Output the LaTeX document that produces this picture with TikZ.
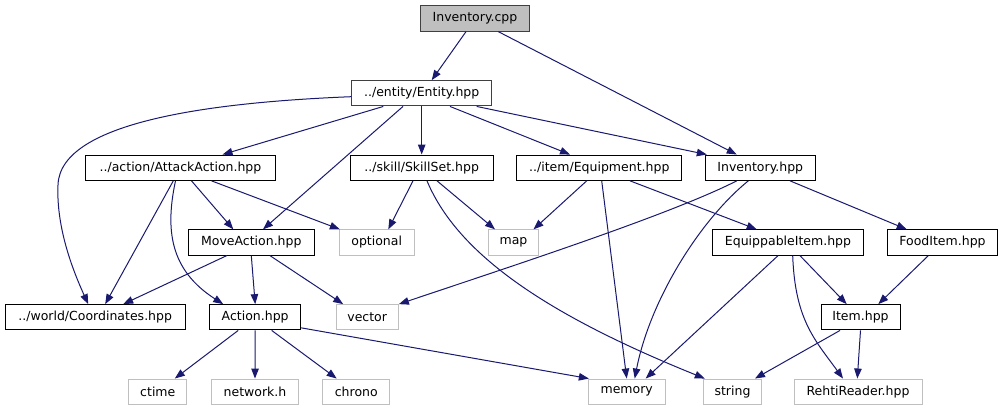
\documentclass[tikz,border=0pt]{standalone}
\usepackage{fontspec}
\setmainfont{DejaVu Sans}
\usetikzlibrary{arrows.meta}
\definecolor{edgeblue}{HTML}{191970}
\definecolor{rootfill}{HTML}{BFBFBF}
\definecolor{sysline}{HTML}{BFBFBF}
\begin{document}
\begin{tikzpicture}[x=1pt, y=-1pt]
    \tikzset{
      box/.style={draw, line width=1pt, minimum height=25.3pt, inner sep=0pt,
                  font=\fontsize{12.5}{14}\selectfont},
      hdr/.style={box, draw=black},
      root/.style={box, draw=black!75, fill=rootfill},
      sys/.style={box, draw=sysline},
      dep/.style={draw=edgeblue, line width=1pt, -{Triangle[length=10pt,width=7.5pt]}},
    }
    \useasboundingbox (0,0) rectangle (1008,411);
    % ===== rows 1-2 =====
    \node[root, minimum width=108.6pt] (invcpp) at (475,18.5) {Inventory.cpp};
    \node[hdr, draw=black!75, minimum width=140pt] (entity) at (421.7,93.3) {../entity/Entity.hpp};
    % ===== row 3 =====
    \node[hdr, minimum width=189.6pt] (attack) at (180.5,167.7) {../action/AttackAction.hpp};
    \node[hdr, minimum width=142.7pt] (skill) at (421.7,167.7) {../skill/SkillSet.hpp};
    \node[hdr, minimum width=165.3pt] (equip) at (599.3,167.7) {../item/Equipment.hpp};
    \node[hdr, minimum width=110pt] (invhpp) at (760.3,167.7) {Inventory.hpp};
    % ===== row 4 =====
    \node[hdr, minimum width=126pt] (move) at (251.3,242.5) {MoveAction.hpp};
    \node[sys, minimum width=74.7pt] (optional) at (376.7,242.5) {optional};
    \node[sys, minimum width=50.4pt] (map) at (513.5,242.5) {map};
    \node[hdr, minimum width=150.6pt] (equippable) at (788,242.5) {EquippableItem.hpp};
    \node[hdr, minimum width=110.4pt] (food) at (942.5,242.5) {FoodItem.hpp};
    % ===== row 5 =====
    \node[hdr, minimum width=180.3pt] (coord) at (95.2,317.3) {../world/Coordinates.hpp};
    \node[hdr, minimum width=91pt] (action) at (255.2,317.3) {Action.hpp};
    \node[sys, minimum width=62.3pt] (vector) at (367.2,317.3) {vector};
    \node[hdr, minimum width=79pt] (item) at (860.5,317.3) {Item.hpp};
    % ===== row 6 =====
    \node[sys, minimum width=58.3pt] (ctime) at (157.8,391.7) {ctime};
    \node[sys, minimum width=86.6pt] (network) at (255,391.7) {network.h};
    \node[sys, minimum width=66.7pt] (chrono) at (356.3,391.7) {chrono};
    \node[sys, minimum width=76.7pt] (memory) at (626.7,391.7) {memory};
    \node[sys, minimum width=58.4pt] (string) at (732.5,391.7) {string};
    \node[sys, minimum width=128pt] (rehti) at (858,391.7) {RehtiReader.hpp};
    % ===== edges =====
    \draw[dep] ([xshift=-9pt]invcpp.south) -- ([xshift=10pt]entity.north);
    \draw[dep] ([xshift=23.3pt]invcpp.south) -- ([xshift=-23.6pt]invhpp.north);
    \draw[dep] ([yshift=-3.4pt]entity.west) .. controls (220,102) and (60,120) .. (58,185)
               .. controls (56,230) and (75,275) .. ([xshift=-7pt]coord.north);
    \draw[dep] ([xshift=-38.4pt]entity.south) -- ([xshift=42pt]attack.north);
    \draw[dep] ([xshift=-18.7pt]entity.south) -- ([xshift=11.7pt]move.north);
    \draw[dep] (entity.south) -- (skill.north);
    \draw[dep] ([xshift=28.3pt]entity.south) -- ([xshift=-29.3pt]equip.north);
    \draw[dep] ([xshift=55pt]entity.south) -- ([xshift=2pt]invhpp.north west);
    \draw[dep] ([xshift=-7.2pt]attack.south) -- ([xshift=10pt]coord.north);
    \draw[dep] ([xshift=-5pt]attack.south) .. controls (165,230) and (170,270) .. ([xshift=-32pt]action.north);
    \draw[dep] ([xshift=11pt]attack.south) -- ([xshift=-18pt]move.north);
    \draw[dep] ([xshift=31pt]attack.south) -- ([xshift=1pt]optional.north west);
    \draw[dep] ([xshift=-8.7pt]skill.south) -- ([xshift=11.6pt]optional.north);
    \draw[dep] ([xshift=15.3pt]skill.south) -- ([xshift=-18.5pt]map.north);
    \draw[dep] ([xshift=5.3pt]skill.south) .. controls (460,260) and (560,320) .. ([xshift=2pt]string.north west);
    \draw[dep] ([xshift=-12.6pt]equip.south) -- ([xshift=20pt]map.north);
    \draw[dep] ([xshift=2.4pt]equip.south) -- (memory.north);
    \draw[dep] ([xshift=30.7pt]equip.south) -- ([xshift=-31.3pt]equippable.north);
    \draw[dep] ([xshift=-23.6pt]invhpp.south) .. controls (670,215) and (500,270) .. (vector.north east);
    \draw[dep] ([xshift=-12pt]invhpp.south) .. controls (700,220) and (650,300) .. ([xshift=8pt]memory.north);
    \draw[dep] ([xshift=29.7pt]invhpp.south) -- ([xshift=-35.8pt]food.north);
    \draw[dep] ([xshift=-24.6pt]move.south) -- ([xshift=28pt]coord.north);
    \draw[dep] (move.south) -- (action.north);
    \draw[dep] ([xshift=18.7pt]move.south) -- ([xshift=-24pt]vector.north);
    \draw[dep] ([xshift=-17pt]action.south) -- ([xshift=17pt]ctime.north);
    \draw[dep] (action.south) -- (network.north);
    \draw[dep] ([xshift=16.5pt]action.south) -- ([xshift=-19.6pt]chrono.north);
    \draw[dep] ([yshift=2.6pt]action.south east) -- ([xshift=1pt]memory.north west);
    \draw[dep] ([xshift=-10pt]equippable.south) -- ([xshift=19pt]memory.north);
    \draw[dep] ([xshift=4.7pt]equippable.south) .. controls (795,320) and (815,340) .. ([xshift=-15pt]rehti.north);
    \draw[dep] ([xshift=12pt]equippable.south) -- ([xshift=-13.8pt]item.north);
    \draw[dep] ([xshift=-14.2pt]food.south) -- ([xshift=17.8pt]item.north);
    \draw[dep] ([xshift=-20.5pt]item.south) -- ([xshift=22.5pt]string.north);
    \draw[dep] (item.south) -- ([xshift=-0.7pt]rehti.north);
\end{tikzpicture}
\end{document}
